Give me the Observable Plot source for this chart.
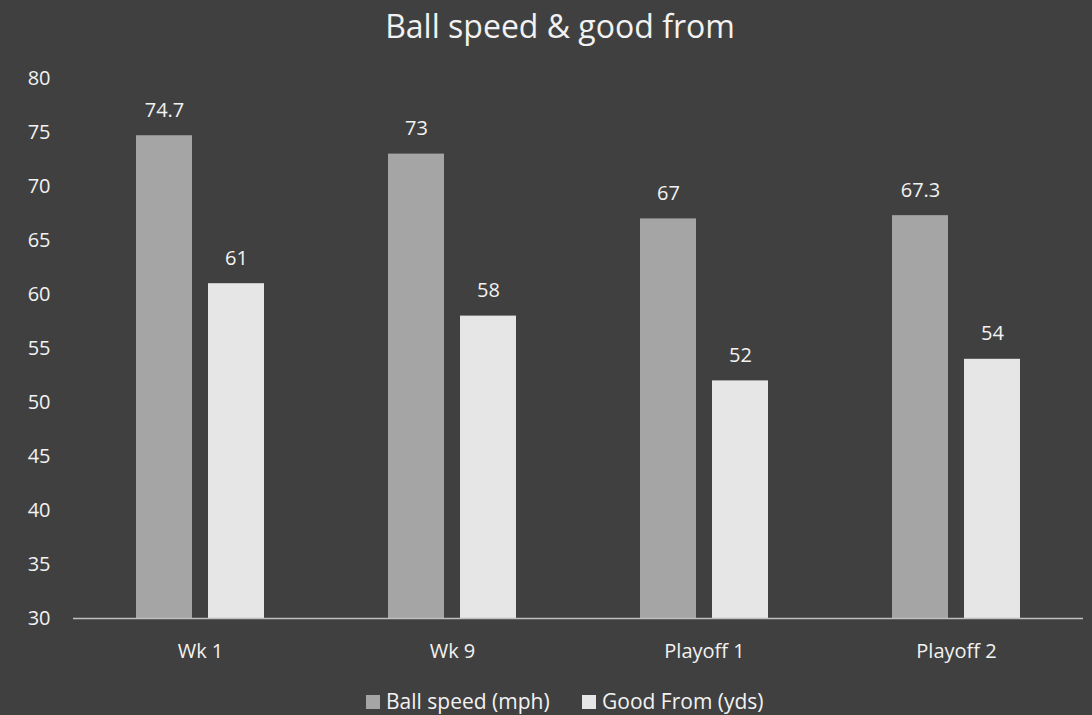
<!DOCTYPE html>
<html>
<head>
<meta charset="utf-8">
<script src="https://cdn.jsdelivr.net/npm/d3@7"></script>
<script src="https://cdn.jsdelivr.net/npm/@observablehq/plot@0.6"></script>
<style>
  html, body { margin: 0; padding: 0; background: #404040; overflow: hidden; }
  #wrap { position: relative; width: 1092px; height: 715px; background: #404040; font-family: "Open Sans", sans-serif; color: #f2f2f2; }
  #title { position: absolute; left: 0; top: 10px; width: 1120px; text-align: center; font-size: 32px; line-height: 32px; white-space: nowrap; }
  #chart { position: absolute; left: 0; top: 60px; }
  .sw { position: absolute; top: 695px; width: 14px; height: 14px; }
  .lt { position: absolute; top: 690.5px; font-size: 21px; line-height: 21px; white-space: nowrap; }
</style>
</head>
<body>
<div id="wrap">
  <div id="title">Ball speed &amp; good from</div>
  <div id="chart"></div>
  <div class="sw" id="sw0"></div><div class="lt" id="lt0"></div>
  <div class="sw" id="sw1"></div><div class="lt" id="lt1"></div>
</div>
<script>
const categories = ["Wk 1", "Wk 9", "Playoff 1", "Playoff 2"];
const ballSpeed = [74.7, 73, 67, 67.3];
const goodFrom = [61, 58, 52, 54];
const seriesNames = ["Ball speed (mph)", "Good From (yds)"];
const seriesColors = ["#a5a5a5", "#e7e6e6"];
const yTicks = [30, 35, 40, 45, 50, 55, 60, 65, 70, 75, 80];

const data = categories.map((c, i) => ({cat: c, speed: ballSpeed[i], good: goodFrom[i]}));
const textColor = "#f2f2f2";

const chart = Plot.plot({
  width: 1092,
  height: 620,
  marginTop: 18,
  marginBottom: 62,
  marginLeft: 73,
  marginRight: 9,
  style: {background: "transparent", color: textColor, fontFamily: "Open Sans", fontSize: "20px"},
  x: {domain: categories, padding: 0, label: null},
  y: {domain: [30, 80], ticks: yTicks, label: null},
  marks: [
    Plot.barY(data, {x: "cat", y1: 30, y2: "speed", fill: seriesColors[0], insetLeft: 62, insetRight: 134}),
    Plot.barY(data, {x: "cat", y1: 30, y2: "good", fill: seriesColors[1], insetLeft: 134, insetRight: 62}),
    Plot.ruleY([30], {stroke: "#bfbfbf", strokeWidth: 1.5}),
    Plot.text(data, {x: "cat", y: "speed", text: d => String(d.speed), dx: -36, dy: -19, lineAnchor: "bottom", fill: textColor, fontSize: 20}),
    Plot.text(data, {x: "cat", y: "good", text: d => String(d.good), dx: 36, dy: -19, lineAnchor: "bottom", fill: textColor, fontSize: 20}),
    Plot.axisX({tickSize: 0, tickPadding: 25, fontSize: 20, label: null}),
    Plot.axisY({ticks: yTicks, tickSize: 0, tickPadding: 23, fontSize: 20, label: null})
  ]
});
document.getElementById("chart").appendChild(chart);

const legendLeft = [366, 582];
seriesNames.forEach((name, i) => {
  const sw = document.getElementById("sw" + i);
  sw.style.left = legendLeft[i] + "px";
  sw.style.background = seriesColors[i];
  const lt = document.getElementById("lt" + i);
  lt.style.left = (legendLeft[i] + 20) + "px";
  lt.textContent = name;
});
</script>
</body>
</html>
